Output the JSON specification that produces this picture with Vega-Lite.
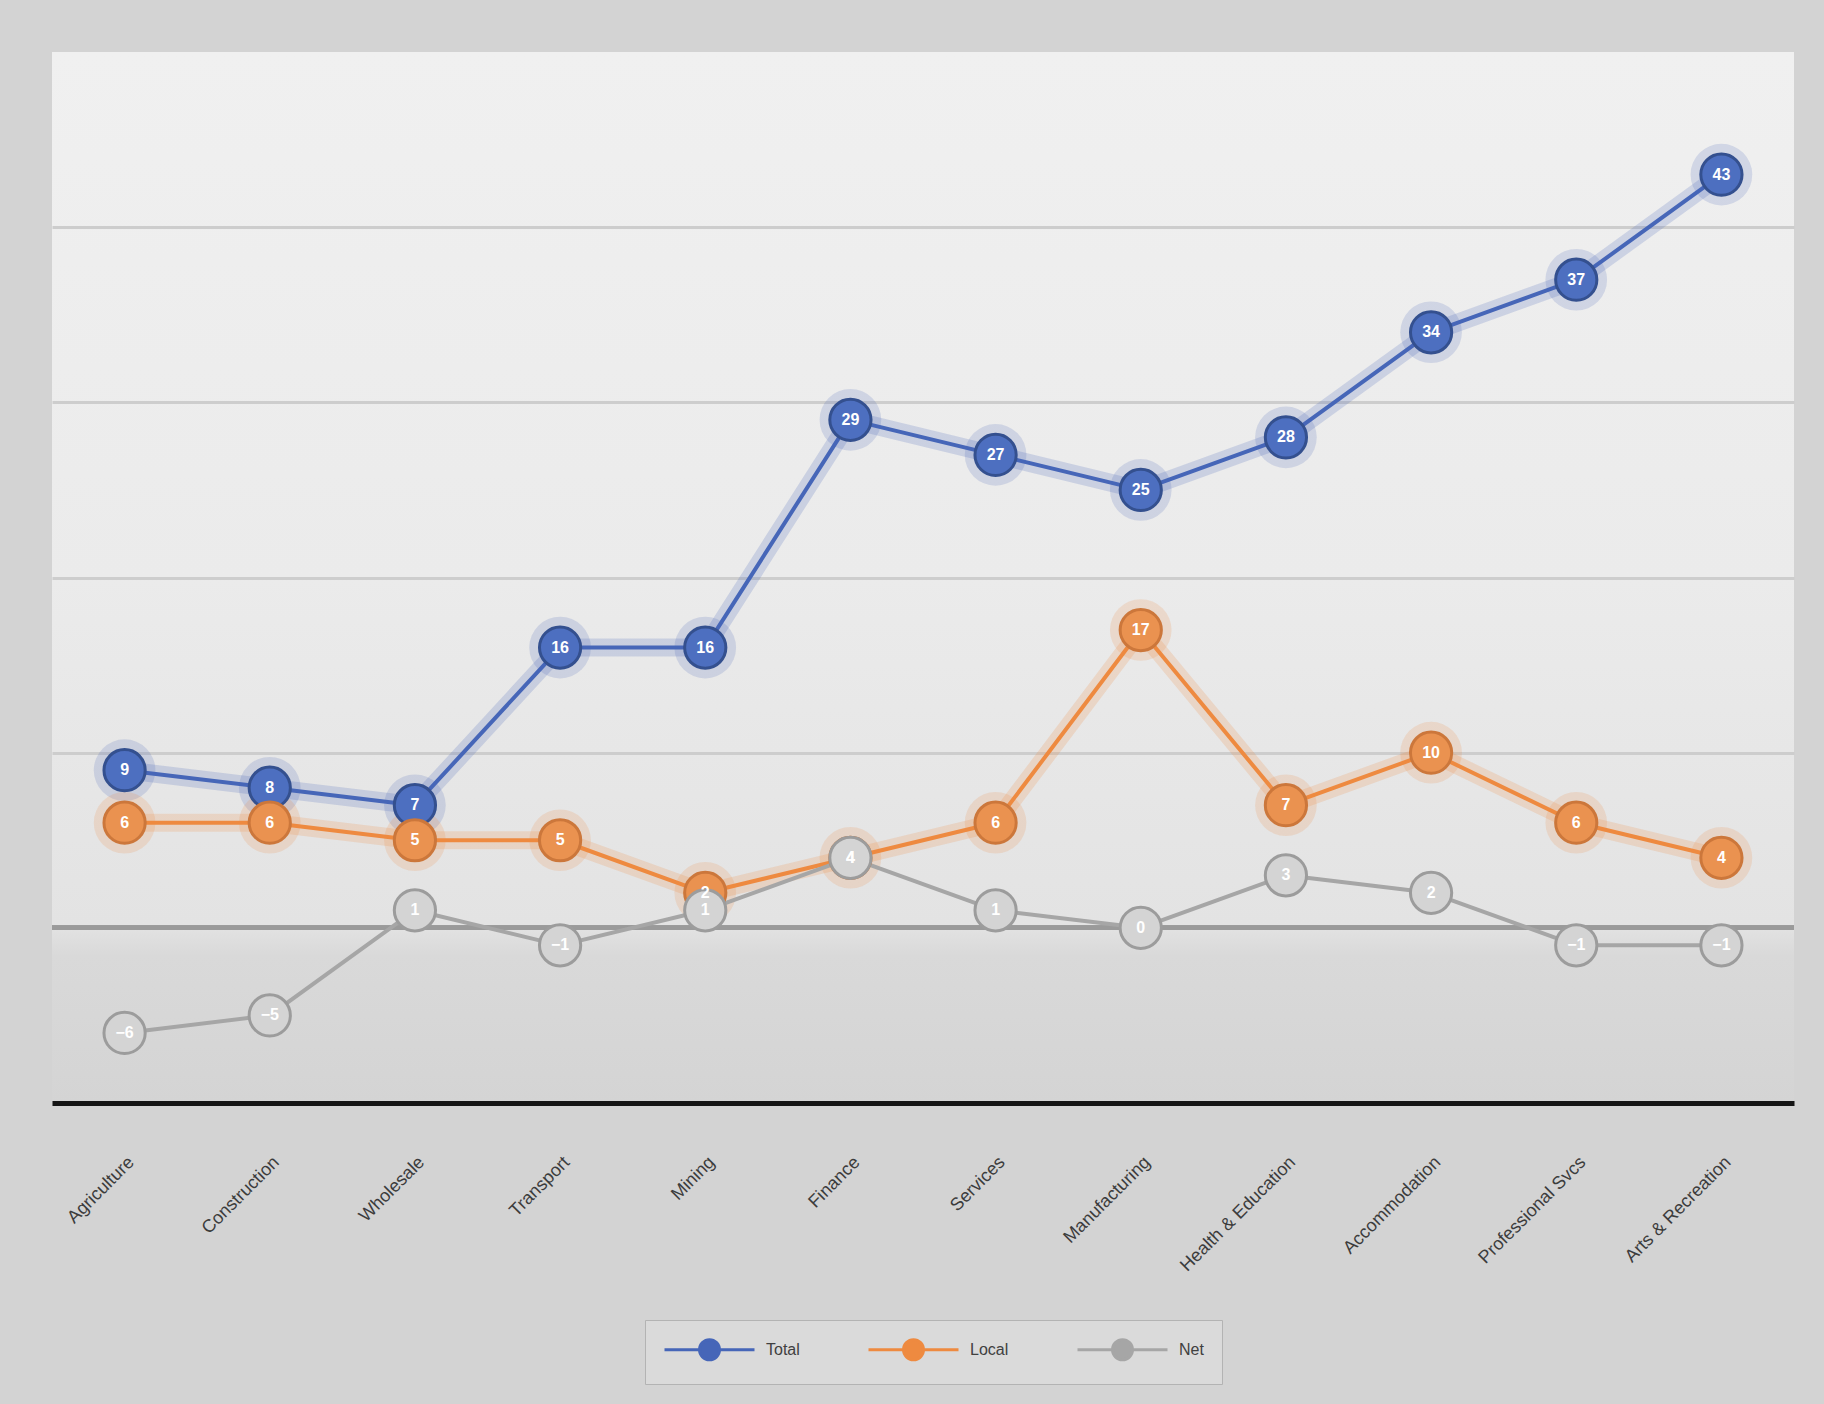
{
  "$schema": "https://vega.github.io/schema/vega-lite/v6.json",
  "width": 1742,
  "height": 1051,
  "autosize": {"type": "none"},
  "padding": {"left": 52, "top": 52, "right": 30, "bottom": 301},
  "background": "#d3d3d3",
  "config": {
    "font": "Liberation Sans",
    "view": {
      "stroke": null,
      "fill": {"gradient": "linear", "x1": 0, "y1": 0, "x2": 0, "y2": 1,
        "stops": [
          {"offset": 0, "color": "#f0f0f0"},
          {"offset": 0.5, "color": "#ebebeb"},
          {"offset": 0.83, "color": "#e3e3e3"},
          {"offset": 0.86, "color": "#d9d9d9"},
          {"offset": 1, "color": "#d4d4d4"}
        ]
      }
    }
  },
  "data": {
    "values": [
      {"cat": "Agriculture", "series": "Total", "value": 9},
      {"cat": "Construction", "series": "Total", "value": 8},
      {"cat": "Wholesale", "series": "Total", "value": 7},
      {"cat": "Transport", "series": "Total", "value": 16},
      {"cat": "Mining", "series": "Total", "value": 16},
      {"cat": "Finance", "series": "Total", "value": 29},
      {"cat": "Services", "series": "Total", "value": 27},
      {"cat": "Manufacturing", "series": "Total", "value": 25},
      {"cat": "Health & Education", "series": "Total", "value": 28},
      {"cat": "Accommodation", "series": "Total", "value": 34},
      {"cat": "Professional Svcs", "series": "Total", "value": 37},
      {"cat": "Arts & Recreation", "series": "Total", "value": 43},
      {"cat": "Agriculture", "series": "Local", "value": 6},
      {"cat": "Construction", "series": "Local", "value": 6},
      {"cat": "Wholesale", "series": "Local", "value": 5},
      {"cat": "Transport", "series": "Local", "value": 5},
      {"cat": "Mining", "series": "Local", "value": 2},
      {"cat": "Finance", "series": "Local", "value": 4},
      {"cat": "Services", "series": "Local", "value": 6},
      {"cat": "Manufacturing", "series": "Local", "value": 17},
      {"cat": "Health & Education", "series": "Local", "value": 7},
      {"cat": "Accommodation", "series": "Local", "value": 10},
      {"cat": "Professional Svcs", "series": "Local", "value": 6},
      {"cat": "Arts & Recreation", "series": "Local", "value": 4},
      {"cat": "Agriculture", "series": "Net", "value": -6},
      {"cat": "Construction", "series": "Net", "value": -5},
      {"cat": "Wholesale", "series": "Net", "value": 1},
      {"cat": "Transport", "series": "Net", "value": -1},
      {"cat": "Mining", "series": "Net", "value": 1},
      {"cat": "Finance", "series": "Net", "value": 4},
      {"cat": "Services", "series": "Net", "value": 1},
      {"cat": "Manufacturing", "series": "Net", "value": 0},
      {"cat": "Health & Education", "series": "Net", "value": 3},
      {"cat": "Accommodation", "series": "Net", "value": 2},
      {"cat": "Professional Svcs", "series": "Net", "value": -1},
      {"cat": "Arts & Recreation", "series": "Net", "value": -1}
    ]
  },
  "encoding": {
    "x": {
      "field": "cat", "type": "nominal",
      "sort": ["Agriculture", "Construction", "Wholesale", "Transport", "Mining", "Finance", "Services", "Manufacturing", "Health & Education", "Accommodation", "Professional Svcs", "Arts & Recreation"],
      "axis": {
        "title": null, "labelAngle": -45, "labelFontSize": 18, "labelColor": "#3c3c3c",
        "ticks": false, "domainColor": "#151515", "domainWidth": 5, "labelPadding": 50, "grid": false
      }
    },
    "y": {
      "field": "value", "type": "quantitative",
      "scale": {"domain": [-10, 50], "nice": false, "zero": false},
      "axis": {
        "title": null, "labels": false, "ticks": false, "domain": false, "grid": true,
        "values": [10, 20, 30, 40], "gridColor": "#cdcdcd", "gridWidth": 3
      }
    },
    "color": {
      "field": "series", "type": "nominal",
      "scale": {"domain": ["Total", "Local", "Net"], "range": ["#4666b8", "#ee8a40", "#a6a6a6"]},
      "legend": {
        "orient": "none", "legendX": 593, "legendY": 1268, "direction": "horizontal", "title": null,
        "symbolType": "M-1,0H2.5M4.5,0H8M2.5,0A1,1 0 1,1 4.5,0A1,1 0 1,1 2.5,0",
        "symbolSize": 400, "symbolStrokeWidth": 3, "symbolOpacity": 1,
        "labelFontSize": 16, "labelColor": "#404040", "labelOffset": 80,
        "columnPadding": 62, "padding": 18, "fillColor": "#dadada", "strokeColor": "#b3b3b3"
      }
    }
  },
  "layer": [
    {
      "mark": {"type": "rule", "color": "#9a9a9a", "strokeWidth": 4},
      "encoding": {"x": null, "color": null, "y": {"datum": 0}}
    },
    {
      "transform": [{"filter": "datum.series !== 'Net'"}],
      "mark": {"type": "line", "strokeWidth": 18, "opacity": 0.2, "strokeCap": "round", "strokeJoin": "round"}
    },
    {
      "transform": [{"filter": "datum.series !== 'Net'"}],
      "mark": {"type": "circle", "size": 3800, "opacity": 0.18}
    },
    {
      "mark": {"type": "line", "strokeWidth": 4, "strokeJoin": "round"}
    },
    {
      "mark": {"type": "circle", "size": 1700, "strokeWidth": 3, "opacity": 1},
      "encoding": {
        "color": null,
        "fill": {"field": "series", "type": "nominal", "scale": {"domain": ["Total", "Local", "Net"], "range": ["#4d6fc0", "#ea9250", "#d4d4d4"]}, "legend": null},
        "stroke": {"field": "series", "type": "nominal", "scale": {"domain": ["Total", "Local", "Net"], "range": ["#34508f", "#cc773b", "#9c9c9c"]}, "legend": null}
      }
    },
    {
      "mark": {"type": "text", "color": "white", "fontSize": 16, "fontWeight": "bold"},
      "encoding": {
        "color": null,
        "text": {"field": "value", "type": "quantitative"}
      }
    }
  ]
}
